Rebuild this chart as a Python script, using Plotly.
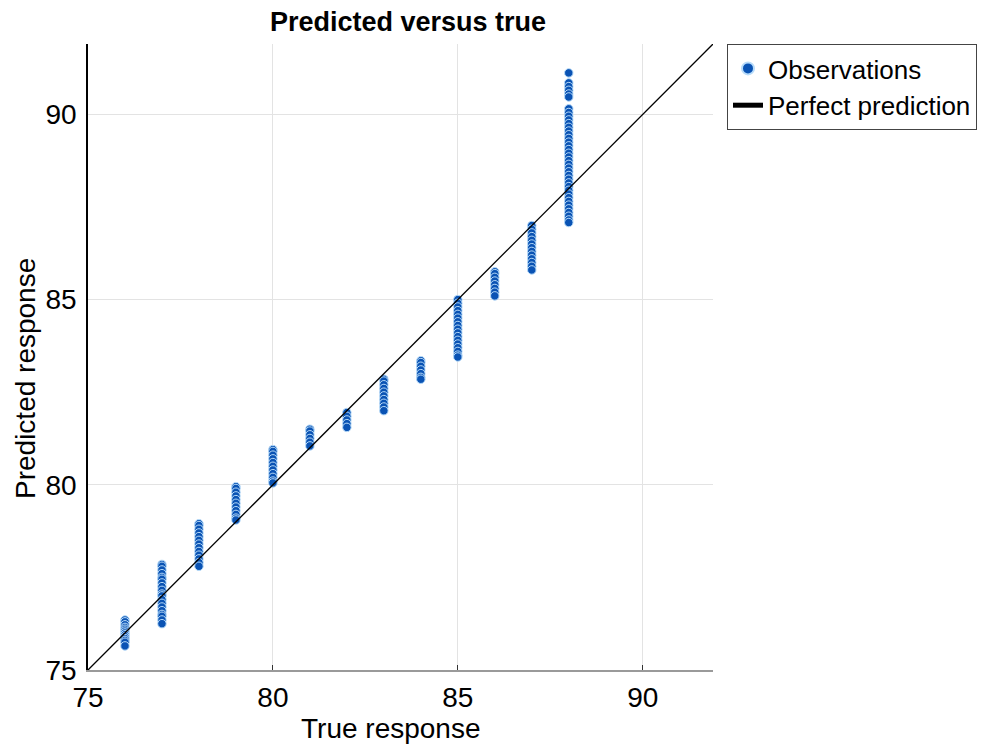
import plotly.graph_objects as go

true_values = [76, 77, 78, 79, 80, 81, 82, 83, 84, 85, 86, 87, 88]
pred_76 = [76.35, 76.3, 76.22, 76.15, 76.1, 76.05, 76.0, 75.95, 75.9, 75.85, 75.8, 75.75, 75.65]
pred_77 = [77.85, 77.8, 77.7, 77.6, 77.5, 77.45, 77.35, 77.25, 77.15, 77.05, 77.0, 76.9, 76.8,
           76.7, 76.6, 76.5, 76.45, 76.35, 76.25]
pred_78 = [78.95, 78.9, 78.8, 78.7, 78.6, 78.5, 78.4, 78.3, 78.2, 78.1, 78.0, 77.9, 77.8]
pred_79 = [79.95, 79.9, 79.8, 79.7, 79.6, 79.5, 79.4, 79.3, 79.2, 79.1, 79.05]
pred_80 = [80.95, 80.9, 80.8, 80.7, 80.6, 80.5, 80.4, 80.3, 80.2, 80.1, 80.05]
pred_81 = [81.5, 81.45, 81.35, 81.25, 81.15, 81.05]
pred_82 = [81.95, 81.85, 81.75, 81.65, 81.55]
pred_83 = [82.85, 82.8, 82.7, 82.6, 82.5, 82.4, 82.3, 82.2, 82.1, 82.0]
pred_84 = [83.35, 83.3, 83.2, 83.1, 83.0, 82.9, 82.85]
pred_85 = [85.0, 84.9, 84.8, 84.7, 84.6, 84.5, 84.4, 84.3, 84.2, 84.1, 84.0, 83.9, 83.8,
           83.7, 83.6, 83.5, 83.45]
pred_86 = [85.75, 85.7, 85.6, 85.5, 85.4, 85.3, 85.2, 85.1]
pred_87 = [87.0, 86.9, 86.8, 86.7, 86.6, 86.5, 86.4, 86.3, 86.2, 86.1, 86.0, 85.9, 85.8]
pred_88 = [91.12, 90.85, 90.75, 90.65, 90.55, 90.47, 90.15, 90.05, 89.95, 89.85, 89.75,
           89.65, 89.55, 89.45, 89.35, 89.25, 89.15, 89.05, 88.95, 88.85, 88.75, 88.65,
           88.55, 88.45, 88.35, 88.25, 88.15, 88.05, 87.95, 87.85, 87.75, 87.65, 87.55,
           87.45, 87.35, 87.25, 87.15, 87.08]
pred_lists = [pred_76, pred_77, pred_78, pred_79, pred_80, pred_81, pred_82, pred_83,
              pred_84, pred_85, pred_86, pred_87, pred_88]

axis_range = [75, 91.9]
tick_vals = [75, 80, 85, 90]

xs, ys = [], []
for t, preds in zip(true_values, pred_lists):
    for p in preds:
        xs.append(t)
        ys.append(p)

FONT = "Liberation Sans, Arial, Helvetica, sans-serif"

W, H = 980, 741
L, T, PW, PH = 80, 36, 625, 626

fig = go.Figure()
fig.add_trace(go.Scatter(
    x=xs, y=ys, mode="markers", name="Observations",
    marker=dict(size=8.5, color="#0a53b4", line=dict(width=1, color="#b8dcfa")),
))
fig.add_trace(go.Scatter(
    x=axis_range, y=axis_range, mode="lines", name="Perfect prediction",
    line=dict(color="black", width=1.3),
))

fig.update_layout(
    width=W, height=H,
    margin=dict(l=L, r=W - L - PW, t=T, b=H - T - PH, autoexpand=False),
    paper_bgcolor="white", plot_bgcolor="white",
    font=dict(family=FONT, color="black", size=28),
    title=dict(text="<b>Predicted versus true</b>", x=400 / W, xanchor="center",
               y=1 - 14 / H, yanchor="middle", font=dict(size=27, family=FONT)),
    showlegend=True,
    legend=dict(x=(719 - L) / PW, y=1.0, xanchor="left", yanchor="top",
                bordercolor="#444", borderwidth=1, bgcolor="white",
                font=dict(size=26, family=FONT), tracegroupgap=0,
                itemsizing="constant"),
    annotations=[
        dict(text="Predicted response", xref="paper", yref="paper",
             x=(17 - L) / PW, y=(T + PH - 371) / PH, textangle=-90,
             showarrow=False, xanchor="center", yanchor="middle",
             font=dict(size=28, family=FONT)),
        dict(text="True response", xref="paper", yref="paper",
             x=(383 - L) / PW, y=(T + PH - 720) / PH,
             showarrow=False, xanchor="center", yanchor="middle",
             font=dict(size=28, family=FONT)),
    ],
)
fig.update_xaxes(
    range=axis_range, tickvals=tick_vals, showgrid=True, gridcolor="#e3e3e3",
    zeroline=False, showline=True, linecolor="#9a9a9a", linewidth=1.5,
    ticks="inside", ticklen=5, tickcolor="#333", tickfont=dict(size=28),
    ticklabelstandoff=2,
)
fig.update_yaxes(
    range=axis_range, tickvals=tick_vals, showgrid=True, gridcolor="#e3e3e3",
    zeroline=False, showline=True, linecolor="black", linewidth=1.5,
    ticks="", tickfont=dict(size=28), ticklabelstandoff=4,
)

fig.write_html("out.html")
